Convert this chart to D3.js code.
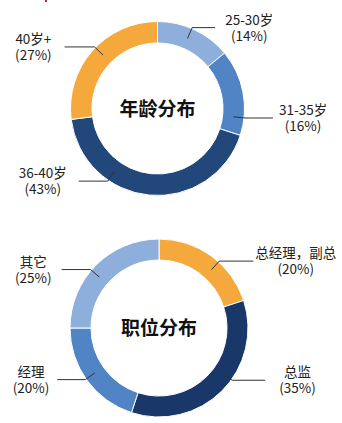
<!DOCTYPE html>
<html><head><meta charset="utf-8">
<script src="https://cdn.jsdelivr.net/npm/d3@7"></script>
<style>html,body{margin:0;padding:0;background:#fff;}svg{display:block;}</style>
</head><body>
<svg id="c" width="342" height="423"></svg>
<script>
// Chart 1: 年龄分布
const ageTitle = "年龄分布";
const ageCategories = ["25-30岁", "31-35岁", "36-40岁", "40岁+"];
const ageValues = [14, 16, 43, 27];
const ageColors = ["#8EAEDB", "#5084C4", "#22487B", "#F5A83B"];

// Chart 2: 职位分布
const jobTitle = "职位分布";
const jobCategories = ["总经理，副总", "总监", "经理", "其它"];
const jobValues = [20, 35, 20, 25];
const jobColors = ["#F5A83B", "#1A3769", "#5084C4", "#8EAEDB"];

const svg = d3.select("#c");
const font = "'Noto Sans CJK SC','Noto Sans',sans-serif";

// small red decoration at top
svg.append("rect").attr("x", 45).attr("y", 0).attr("width", 2).attr("height", 2).attr("fill", "#C0282D");

function donut(cfg) {
  const g = svg.append("g").attr("transform", `translate(${cfg.cx},${cfg.cy})`);
  const pie = d3.pie().sort(null).value(d => d.v);
  const data = pie(cfg.cats.map((c, i) => ({c, v: cfg.vals[i], col: cfg.cols[i]})));
  const arc = d3.arc().innerRadius(cfg.ri).outerRadius(cfg.ro);
  g.selectAll("path.s").data(data).join("path")
    .attr("d", arc).attr("fill", d => d.data.col)
    .attr("stroke", "#fff").attr("stroke-width", 1);
  g.append("text").attr("text-anchor", "middle").attr("y", 7)
    .attr("font-family", font).attr("font-weight", "bold").attr("font-size", 19)
    .attr("fill", "#111").text(cfg.title);
  const rm = (cfg.ri + cfg.ro) / 2;
  data.forEach((d, i) => {
    // leader angle: slice mid-angle nudged toward where the label sits
    const a = (d.startAngle + d.endAngle) / 2 + cfg.nudge[i] * Math.PI / 180;
    const p0 = [rm * Math.sin(a), -rm * Math.cos(a)];
    const re = cfg.ro + 1;
    const p1 = [re * Math.sin(a), -re * Math.cos(a)];
    const right = Math.sin(a) > 0;
    const len = cfg.len[i];
    const p2 = [p1[0] + (right ? len : -len), p1[1]];
    g.append("path").attr("d", d3.line()([p0, p1, p2]))
      .attr("fill", "none").attr("stroke", "#333").attr("stroke-width", 1);
    const t = g.append("text").attr("font-family", font).attr("font-size", 13.5)
      .attr("fill", "#222").attr("text-anchor", "middle");
    const t1 = t.append("tspan").attr("x", 0).attr("y", p2[1] - 3).text(d.data.c);
    const t2 = t.append("tspan").attr("x", 0).attr("y", p2[1] + 13).text(`(${d.data.v}%)`);
    const w = Math.max(t1.node().getComputedTextLength(), t2.node().getComputedTextLength());
    const cx = p2[0] + (right ? 1 : -1) * (cfg.gap[i] + w / 2);
    t1.attr("x", cx); t2.attr("x", cx);
  });
}

donut({cx: 157.5, cy: 108.5, ri: 65.5, ro: 87, title: ageTitle,
  cats: ageCategories, vals: ageValues, cols: ageColors,
  nudge: [-2, 17, 29, 3],
  len: [23, 28, 29, 30], gap: [10, 6, 12, 13]});
donut({cx: 159, cy: 328, ri: 68, ro: 89, title: jobTitle,
  cats: jobCategories, vals: jobValues, cols: jobColors,
  nudge: [6, -9.5, 1, -4.5],
  len: [34, 33, 28, 29], gap: [2, 14, 8, 10]});
</script>
</body></html>
